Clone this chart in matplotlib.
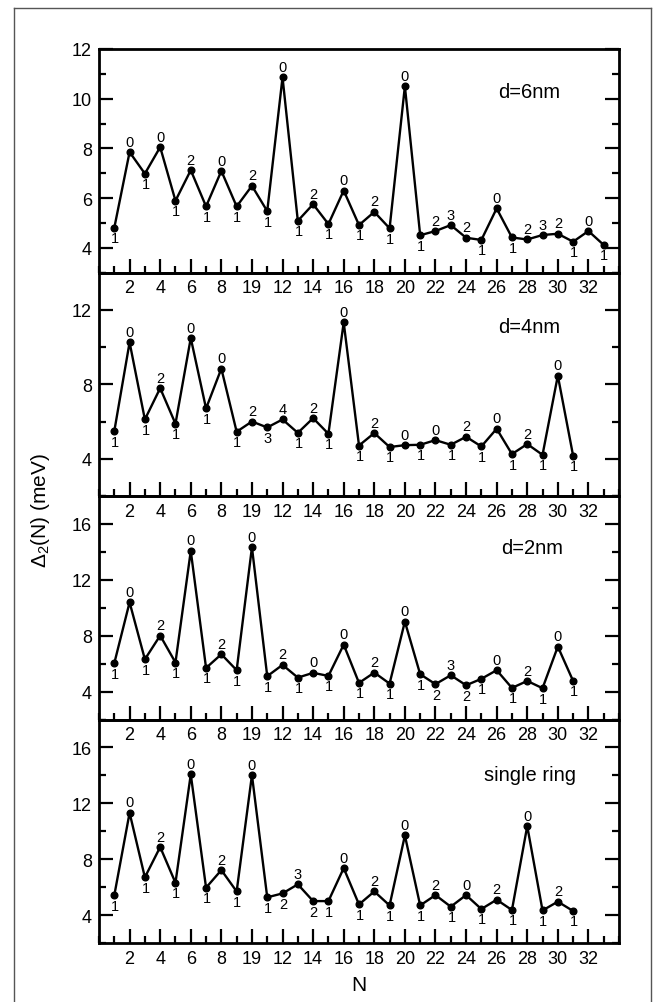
import matplotlib
matplotlib.use("Agg")
import matplotlib.pyplot as plt
from matplotlib.lines import Line2D
from matplotlib.ticker import MultipleLocator, FixedLocator

plt.rcParams['font.family'] = ['Liberation Sans', 'DejaVu Sans']
plt.rcParams['mathtext.fontset'] = 'custom'
plt.rcParams['mathtext.rm'] = 'Liberation Sans'
plt.rcParams['mathtext.it'] = 'Liberation Sans'

# ---------------- data ----------------
N_d6 = list(range(1, 34))
gap_d6 = [4.80, 7.85, 6.98, 8.05, 5.89, 7.12, 5.66, 7.09, 5.66, 6.49, 5.47, 10.86,
          5.08, 5.75, 4.95, 6.30, 4.91, 5.44, 4.78, 10.50, 4.50, 4.67, 4.91, 4.40,
          4.31, 5.58, 4.41, 4.33, 4.51, 4.56, 4.24, 4.67, 4.11]
lab_d6 = ['1', '0', '1', '0', '1', '2', '1', '0', '1', '2', '1', '0', '1', '2', '1', '0', '1',
          '2', '1', '0', '1', '2', '3', '2', '1', '0', '1', '2', '3', '2', '1', '0', '1']
pos_d6 = ['b', 'a', 'b', 'a', 'b', 'a', 'b', 'a', 'b', 'a', 'b', 'a', 'b', 'a', 'b', 'a', 'b',
          'a', 'b', 'a', 'b', 'a', 'a', 'a', 'b', 'a', 'b', 'a', 'a', 'a', 'b', 'a', 'b']

N_d4 = list(range(1, 32))
gap_d4 = [5.48, 10.25, 6.11, 7.79, 5.88, 10.48, 6.70, 8.84, 5.45, 6.00, 5.68, 6.11,
          5.39, 6.18, 5.34, 11.32, 4.71, 5.38, 4.63, 4.73, 4.75, 5.00, 4.75, 5.18,
          4.66, 5.61, 4.25, 4.79, 4.21, 8.46, 4.16]
lab_d4 = ['1', '0', '1', '2', '1', '0', '1', '0', '1', '2', '3', '4', '1', '2', '1', '0',
          '1', '2', '1', '0', '1', '0', '1', '2', '1', '0', '1', '2', '1', '0', '1']
pos_d4 = ['b', 'a', 'b', 'a', 'b', 'a', 'b', 'a', 'b', 'a', 'b', 'a', 'b', 'a', 'b', 'a',
          'b', 'a', 'b', 'a', 'b', 'a', 'b', 'a', 'b', 'a', 'b', 'a', 'b', 'a', 'b']

N_d2 = list(range(1, 32))
gap_d2 = [6.03, 10.39, 6.31, 8.01, 6.08, 14.07, 5.69, 6.67, 5.53, 14.33, 5.10, 5.91,
          5.00, 5.34, 5.12, 7.36, 4.62, 5.36, 4.57, 9.01, 5.24, 4.53, 5.17, 4.45,
          4.91, 5.53, 4.26, 4.76, 4.24, 7.22, 4.76]
lab_d2 = ['1', '0', '1', '2', '1', '0', '1', '2', '1', '0', '1', '2', '1', '0', '1', '0',
          '1', '2', '1', '0', '1', '2', '3', '2', '1', '0', '1', '2', '1', '0', '1']
pos_d2 = ['b', 'a', 'b', 'a', 'b', 'a', 'b', 'a', 'b', 'a', 'b', 'a', 'b', 'a', 'b', 'a',
          'b', 'a', 'b', 'a', 'b', 'b', 'a', 'b', 'b', 'a', 'b', 'a', 'b', 'a', 'b']

N_ring = list(range(1, 32))
gap_ring = [5.41, 11.32, 6.70, 8.87, 6.31, 14.07, 5.96, 7.22, 5.69, 14.02, 5.27, 5.55,
            6.20, 5.00, 5.00, 7.36, 4.76, 5.69, 4.69, 9.70, 4.69, 5.43, 4.60, 5.43,
            4.43, 5.10, 4.36, 10.37, 4.33, 4.96, 4.29]
lab_ring = ['1', '0', '1', '2', '1', '0', '1', '2', '1', '0', '1', '2', '3', '2', '1', '0',
            '1', '2', '1', '0', '1', '2', '1', '0', '1', '2', '1', '0', '1', '2', '1']
pos_ring = ['b', 'a', 'b', 'a', 'b', 'a', 'b', 'a', 'b', 'a', 'b', 'b', 'a', 'b', 'b', 'a',
            'b', 'a', 'b', 'a', 'b', 'a', 'b', 'a', 'b', 'a', 'b', 'a', 'b', 'a', 'b']

panel_titles = ['d=6nm', 'd=4nm', 'd=2nm', 'single ring']
x_tick_values = [2, 4, 6, 8, 10, 12, 14, 16, 18, 20, 22, 24, 26, 28, 30, 32]
x_tick_labels = ['2', '4', '6', '8', '19', '12', '14', '16', '18', '20', '22', '24',
                 '26', '28', '30', '32']
x_label = 'N'
y_label = r'Δ$_2$(N) (meV)'

panels = [
    (N_d6, gap_d6, lab_d6, pos_d6, (3, 12), [4, 6, 8, 10, 12], 1, (28.1, 10.27)),
    (N_d4, gap_d4, lab_d4, pos_d4, (2, 14), [4, 8, 12], 2, (28.1, 11.1)),
    (N_d2, gap_d2, lab_d2, pos_d2, (2, 18), [4, 8, 12, 16], 2, (28.3, 14.3)),
    (N_ring, gap_ring, lab_ring, pos_ring, (2, 18), [4, 8, 12, 16], 2, (28.2, 14.07)),
]

# ---------------- figure ----------------
W, H = 653, 1003
fig = plt.figure(figsize=(W / 100, H / 100), dpi=100)

left_px, right_px = 99, 619
top_px, bottom_px = 50, 944
ph = (bottom_px - top_px) / 4.0

for i, (xs, ys, labs, poss, ylim, yticks, yminor, tpos) in enumerate(panels):
    y_top = top_px + i * ph
    ax = fig.add_axes([left_px / W, 1 - (y_top + ph) / H,
                       (right_px - left_px) / W, ph / H])
    ax.patch.set_visible(False)
    ax.plot(xs, ys, color='black', lw=1.7, marker='o', ms=4.8, zorder=3)
    for x, y, t, p in zip(xs, ys, labs, poss):
        off = 7.5 if p == 'a' else -7.5
        ax.annotate(t, (x, y), xytext=(0.5 if p == 'b' else 0, off),
                    textcoords='offset points', ha='center', va='center',
                    fontsize=10.5)
    ax.text(tpos[0], tpos[1], panel_titles[i], ha='center', va='center', fontsize=14.5)
    ax.set_xlim(0, 34)
    ax.set_ylim(*ylim)
    ax.xaxis.set_major_locator(FixedLocator(x_tick_values))
    ax.set_xticklabels(x_tick_labels)
    ax.xaxis.set_minor_locator(MultipleLocator(1))
    ax.yaxis.set_major_locator(FixedLocator(yticks))
    ax.yaxis.set_minor_locator(MultipleLocator(yminor))
    ax.tick_params(axis='x', which='both', direction='in', top=False, bottom=True,
                   labelsize=13, pad=5)
    ax.tick_params(axis='y', which='both', direction='in', left=True, right=True,
                   labelsize=13, pad=5)
    ax.tick_params(which='major', length=10, width=1.6)
    ax.tick_params(which='minor', length=5, width=1.6)
    for sp in ax.spines.values():
        sp.set_linewidth(2.0)
    if i == 3:
        ax.set_xlabel(x_label, fontsize=15, labelpad=6)

fig.text(40 / W, 1 - 510 / H, y_label, rotation=90, ha='center', va='center',
         fontsize=15)

# outer frame
fx0, fx1 = 14 / W, 651 / W
fy1 = 1 - 9 / H
frame_col = '#555555'
for xd, yd in [([fx0, fx1], [fy1, fy1]), ([fx0, fx0], [fy1, -0.01]),
               ([fx1, fx1], [fy1, -0.01])]:
    fig.add_artist(Line2D(xd, yd, transform=fig.transFigure, color=frame_col, lw=1.0))

fig.savefig('out.png', dpi=100)
